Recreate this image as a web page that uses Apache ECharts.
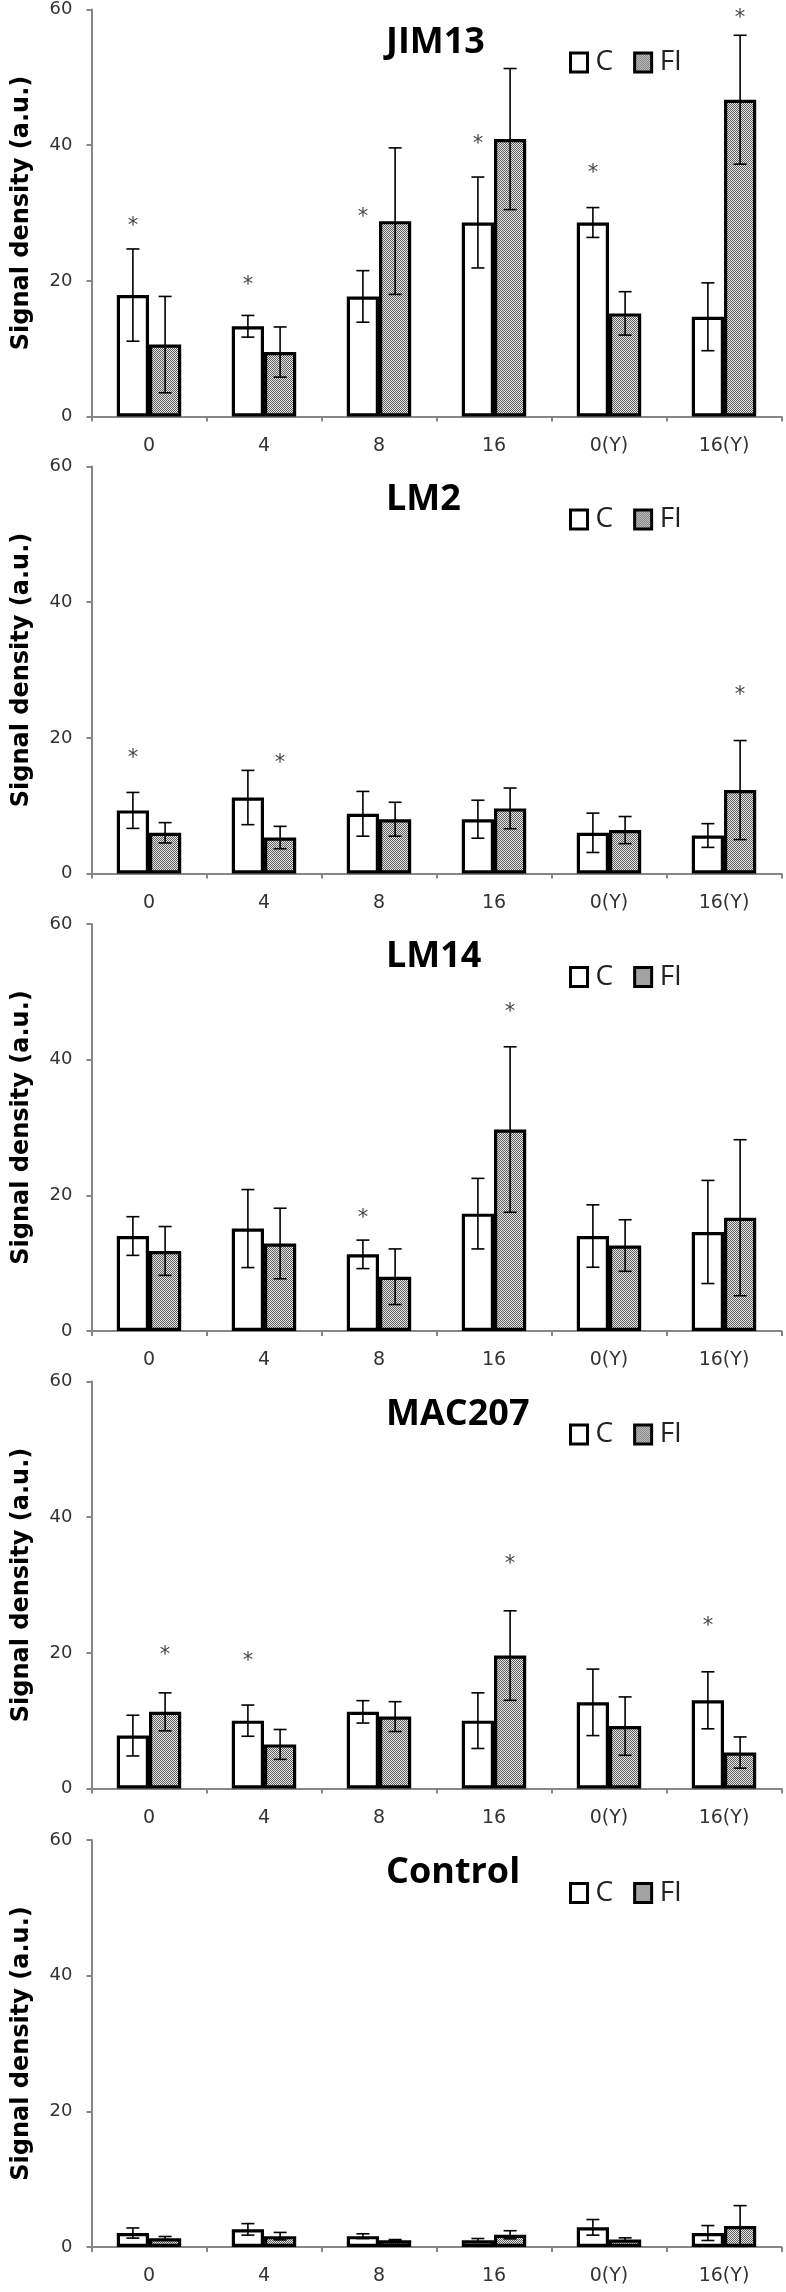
<!DOCTYPE html>
<html>
<head>
<meta charset="utf-8">
<script src="https://cdn.jsdelivr.net/npm/echarts@6/dist/echarts.min.js"></script>
<style>
  html, body { margin: 0; padding: 0; background: #fff; }
  #chart { width: 786px; height: 2292px; }
</style>
</head>
<body>
<div id="chart"></div>
<script>
// ---------- DATA ----------
const categories = ['0', '4', '8', '16', '0(Y)', '16(Y)'];
const seriesNames = ['C', 'FI'];
const yTicks = [0, 20, 40, 60];
const panelTitles = ['JIM13', 'LM2', 'LM14', 'MAC207', 'Control'];

const jim13C     = [17.9, 13.3, 17.7, 28.6, 28.6, 14.7];
const jim13CErr  = [6.8, 1.6, 3.8, 6.7, 2.2, 5.0];
const jim13FI    = [10.6, 9.5, 28.8, 40.9, 15.2, 46.7];
const jim13FIErr = [7.1, 3.7, 10.8, 10.4, 3.2, 9.5];
const jim13Stars = [[0, 'C', 28.8], [1, 'C', 20.0], [2, 'C', 30.0], [3, 'C', 40.9], [4, 'C', 36.5], [5, 'FI', 59.4]];

const lm2C     = [9.3, 11.2, 8.8, 8.0, 6.0, 5.6];
const lm2CErr  = [2.65, 4.0, 3.3, 2.8, 2.9, 1.75];
const lm2FI    = [6.0, 5.3, 8.0, 9.6, 6.4, 12.3];
const lm2FIErr = [1.5, 1.65, 2.5, 3.0, 2.0, 7.3];
const lm2Stars = [[0, 'C', 17.7], [1, 'FI', 17.0], [5, 'FI', 27.0]];

const lm14C     = [14.0, 15.1, 11.3, 17.3, 14.0, 14.6];
const lm14CErr  = [2.85, 5.75, 2.1, 5.2, 4.6, 7.6];
const lm14FI    = [11.8, 12.9, 8.0, 29.7, 12.6, 16.7];
const lm14FIErr = [3.6, 5.2, 4.1, 12.2, 3.8, 11.5];
const lm14Stars = [[2, 'C', 17.3], [3, 'FI', 47.7]];

const mac207C     = [7.8, 10.0, 11.3, 10.0, 12.7, 13.0];
const mac207CErr  = [3.0, 2.3, 1.65, 4.1, 4.9, 4.2];
const mac207FI    = [11.3, 6.5, 10.6, 19.6, 9.2, 5.3];
const mac207FIErr = [2.8, 2.2, 2.2, 6.6, 4.3, 2.3];
const mac207Stars = [[0, 'FI', 20.3], [1, 'C', 19.4], [3, 'FI', 33.7], [5, 'C', 24.6]];

const controlC     = [2.06, 2.6, 1.6, 1.0, 2.9, 2.06];
const controlCErr  = [0.75, 0.85, 0.35, 0.25, 1.15, 1.1];
const controlFI    = [1.3, 1.6, 1.0, 1.8, 1.1, 3.1];
const controlFIErr = [0.25, 0.55, 0.1, 0.6, 0.25, 3.0];
const controlStars = [];

const panelData = [
  { c: jim13C, cErr: jim13CErr, fi: jim13FI, fiErr: jim13FIErr, stars: jim13Stars },
  { c: lm2C, cErr: lm2CErr, fi: lm2FI, fiErr: lm2FIErr, stars: lm2Stars },
  { c: lm14C, cErr: lm14CErr, fi: lm14FI, fiErr: lm14FIErr, stars: lm14Stars },
  { c: mac207C, cErr: mac207CErr, fi: mac207FI, fiErr: mac207FIErr, stars: mac207Stars },
  { c: controlC, cErr: controlCErr, fi: controlFI, fiErr: controlFIErr, stars: controlStars }
];

// ---------- LAYOUT / STYLE ----------
const gridTops = [9.5, 466.5, 924, 1381.5, 1840];
const gridHeight = 407;
const gridLeft = 91.5;
const gridRight = 4.5;
const BAR_FRAC = 0.28;
const axisGray = '#868686';
const labelColor = '#333';

// dotted fill pattern for FI bars
const pc = document.createElement('canvas');
pc.width = 2; pc.height = 2;
const pctx = pc.getContext('2d');
pctx.fillStyle = '#e6e6e6'; pctx.fillRect(0, 0, 2, 2);
pctx.fillStyle = '#5e5e5e'; pctx.fillRect(0, 0, 1, 1); pctx.fillRect(1, 1, 1, 1);
const fiPattern = { image: pc, repeat: 'repeat' };

const grids = [], xAxes = [], yAxes = [], series = [], titles = [], legends = [];

panelData.forEach((p, i) => {
  const top = gridTops[i];
  grids.push({ left: gridLeft, right: gridRight, top: top, height: gridHeight, containLabel: false });
  xAxes.push({
    type: 'category', gridIndex: i, data: categories,
    axisLine: { lineStyle: { color: axisGray, width: 2 } },
    axisTick: { show: true, length: 5, lineStyle: { color: axisGray, width: 2 } },
    axisLabel: { color: labelColor, fontFamily: 'DejaVu Sans', fontSize: 19, margin: 20 },
    splitLine: { show: false }
  });
  yAxes.push({
    type: 'value', gridIndex: i, min: 0, max: 60, interval: 20,
    name: 'Signal density (a.u.)', nameLocation: 'middle', nameGap: 58,
    nameTextStyle: { fontFamily: 'DejaVu Sans', fontWeight: 'bold', fontSize: 24, color: '#000' },
    axisLine: { show: true, lineStyle: { color: axisGray, width: 2 } },
    axisTick: { show: true, length: 5, lineStyle: { color: axisGray, width: 2 } },
    axisLabel: { color: labelColor, fontFamily: 'DejaVu Sans', fontSize: 18, margin: 19,
      formatter: v => (yTicks.indexOf(v) >= 0 ? String(v) : '') },
    splitLine: { show: false }
  });
  titles.push({
    text: panelTitles[i], left: 381, top: top + 10,
    textStyle: { fontFamily: 'Open Sans', fontWeight: 'bold', fontSize: 36, color: '#000' }
  });
  legends.push({
    left: 564, top: top + 34, icon: 'rect', itemWidth: 17, itemHeight: 19, itemGap: 20,
    textStyle: { fontFamily: 'Open Sans', fontSize: 28, color: '#222', padding: [0, 0, 0, 3] },
    data: [
      { name: 'C', itemStyle: { color: '#fff', borderColor: '#000', borderWidth: 3 } },
      { name: 'FI', itemStyle: { color: fiPattern, borderColor: '#000', borderWidth: 3 } }
    ]
  });

  series.push({
    name: 'C', type: 'bar', xAxisIndex: i, yAxisIndex: i, data: p.c,
    barWidth: (BAR_FRAC * 100) + '%', barGap: '0%',
    itemStyle: { color: '#fff', borderColor: '#000', borderWidth: 3.2 }
  });
  series.push({
    name: 'FI', type: 'bar', xAxisIndex: i, yAxisIndex: i, data: p.fi,
    barWidth: (BAR_FRAC * 100) + '%', barGap: '0%',
    itemStyle: { color: fiPattern, borderColor: '#000', borderWidth: 3.2 }
  });

  // error bars
  const errData = [];
  categories.forEach((c, k) => {
    errData.push([k, p.c[k], p.cErr[k], 0]);
    errData.push([k, p.fi[k], p.fiErr[k], 1]);
  });
  series.push({
    type: 'custom', xAxisIndex: i, yAxisIndex: i, z: 5, silent: true,
    data: errData,
    renderItem: (params, api) => {
      const k = api.value(0), m = api.value(1), e = api.value(2), s = api.value(3);
      const band = api.size([1, 0])[0];
      const bw = band * BAR_FRAC;
      const cx = api.coord([k, 0])[0] + (s === 0 ? -bw / 2 : bw / 2);
      const yt = api.coord([k, m + e])[1];
      const yb = api.coord([k, Math.max(m - e, 0)])[1];
      const hw = 6.5;
      const st = { stroke: '#000', lineWidth: 1.6 };
      return { type: 'group', children: [
        { type: 'line', shape: { x1: cx, y1: yt, x2: cx, y2: yb }, style: st },
        { type: 'line', shape: { x1: cx - hw, y1: yt, x2: cx + hw, y2: yt }, style: st },
        { type: 'line', shape: { x1: cx - hw, y1: yb, x2: cx + hw, y2: yb }, style: st }
      ]};
    }
  });

  // significance asterisks
  series.push({
    type: 'custom', xAxisIndex: i, yAxisIndex: i, z: 6, silent: true,
    data: p.stars.map(s => [s[0], s[2], seriesNames.indexOf(s[1])]),
    renderItem: (params, api) => {
      const k = api.value(0), y = api.value(1), s = api.value(2);
      const band = api.size([1, 0])[0];
      const bw = band * BAR_FRAC;
      const cx = api.coord([k, 0])[0] + (s === 0 ? -bw / 2 : bw / 2);
      const cy = api.coord([k, y])[1];
      return { type: 'text', style: { text: '*', x: cx, y: cy + 5, align: 'center', verticalAlign: 'middle',
        fontFamily: 'DejaVu Sans', fontSize: 21, fill: '#444' } };
    }
  });
});

const chart = echarts.init(document.getElementById('chart'), null, { renderer: 'canvas' });
chart.setOption({
  animation: false,
  backgroundColor: '#fff',
  title: titles,
  legend: legends,
  grid: grids,
  xAxis: xAxes,
  yAxis: yAxes,
  series: series
});
</script>
</body>
</html>
